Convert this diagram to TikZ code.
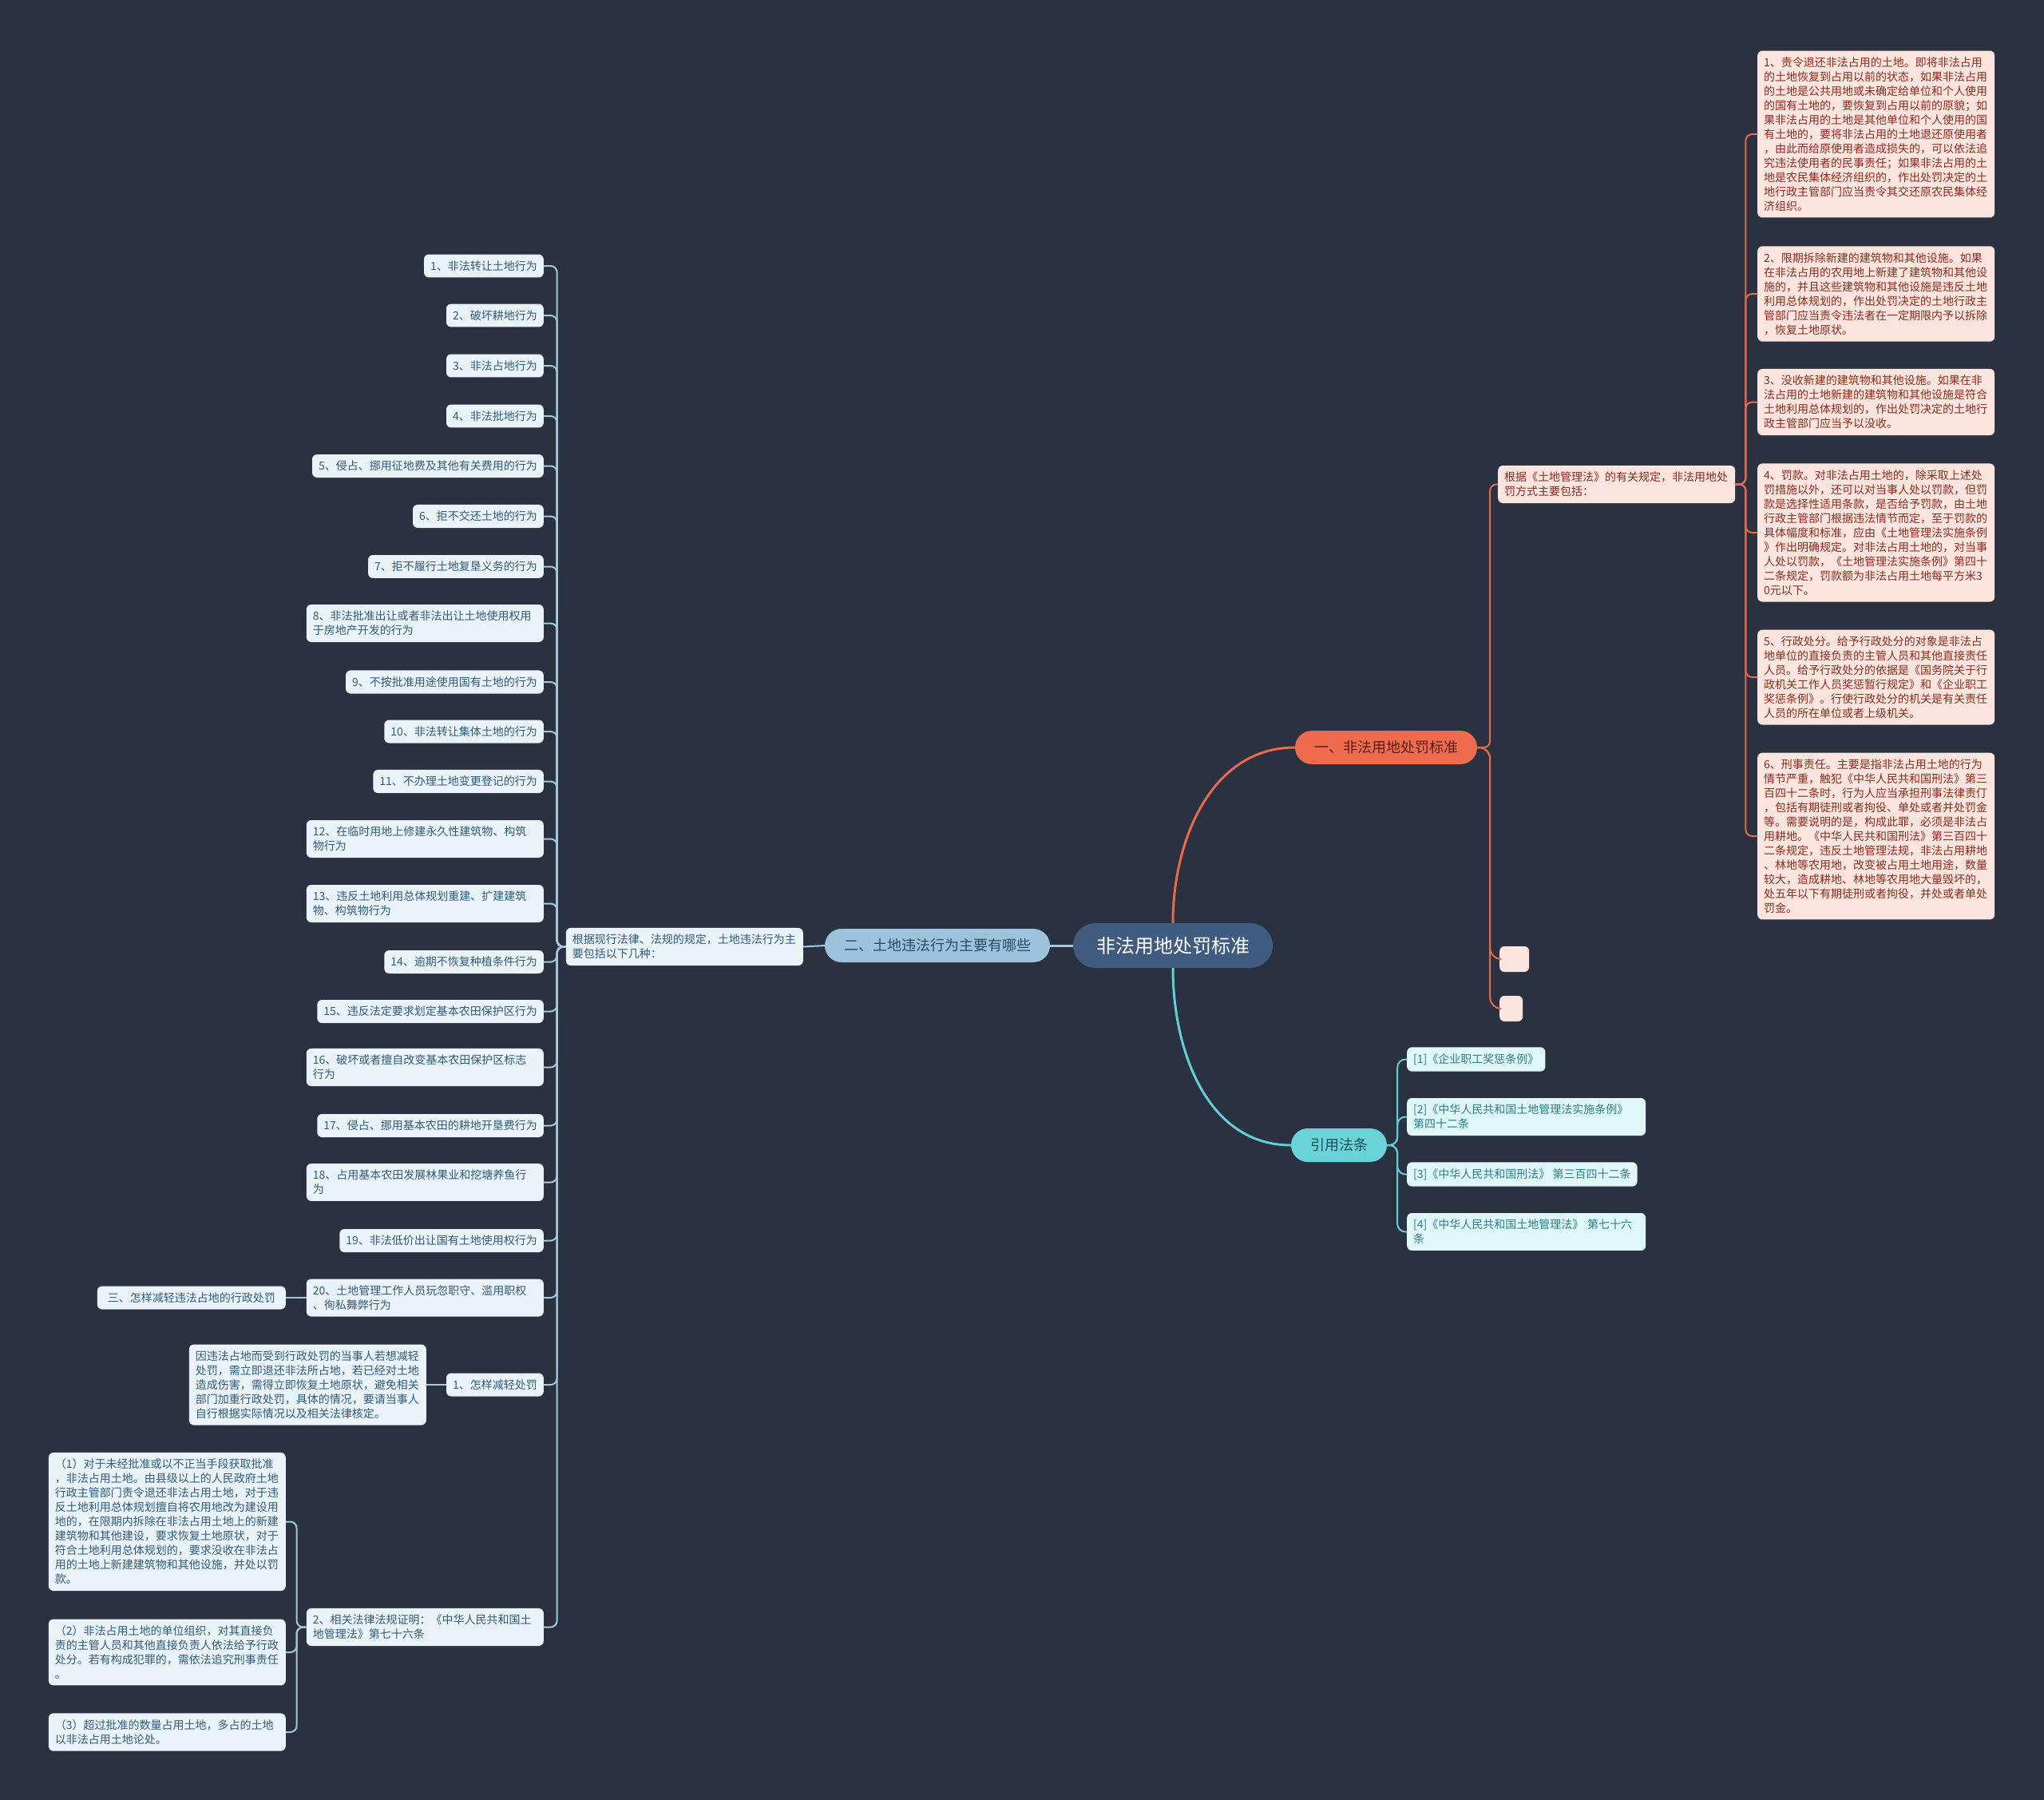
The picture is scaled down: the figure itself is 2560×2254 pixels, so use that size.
\documentclass[tikz,border=0pt]{standalone}
\usepackage{fontspec}
\setmainfont{Noto Sans CJK SC}
\definecolor{bg}{HTML}{2A3241}
\definecolor{rootfill}{HTML}{3F5B7F}
\definecolor{redfill}{HTML}{EE6C4D}
\definecolor{redline}{HTML}{E96A4B}
\definecolor{redtext}{HTML}{5B1D10}
\definecolor{pinkfill}{HTML}{FDE5DF}
\definecolor{pinktext}{HTML}{8A2B1C}
\definecolor{bluefill}{HTML}{9CC3DB}
\definecolor{blueline}{HTML}{A6C8DE}
\definecolor{bluetext}{HTML}{2D4A63}
\definecolor{palefill}{HTML}{EAF3F8}
\definecolor{paletext}{HTML}{2F5C7B}
\definecolor{cyanfill}{HTML}{6AD3DA}
\definecolor{cyanline}{HTML}{62CFD7}
\definecolor{cyantext}{HTML}{1F4F57}
\definecolor{reffill}{HTML}{E0F7F8}
\definecolor{reftext}{HTML}{2A7E86}
\begin{document}
\begin{tikzpicture}[x=1pt,y=-1pt,
  root/.style={fill=rootfill,text=white,rounded corners=28pt,minimum height=56pt,inner xsep=29pt,font=\fontsize{24}{28}\selectfont},
  topic/.style={rounded corners=21pt,minimum height=42pt,inner xsep=24pt,inner ysep=6pt,font=\fontsize{18}{22}\selectfont},
  leaf/.style={rounded corners=6pt,inner xsep=8pt,inner ysep=8pt,align=left,font=\fontsize{14}{18}\selectfont},
  wide/.style={text width=281pt},
  redleaf/.style={leaf,fill=pinkfill,text=pinktext},
  blueleaf/.style={leaf,fill=palefill,text=paletext},
  cyanleaf/.style={leaf,fill=reffill,text=reftext},
  link/.style={line width=2pt,rounded corners=8pt},
  mainlink/.style={line width=3pt}]
\fill[bg] (0,0) rectangle (2560,2254);

% centre and main topics
\node[root] (root) at (1469,1184) {非法用地处罚标准};
\node[topic,fill=redfill,text=redtext] (b1) at (1736,936) {一、非法用地处罚标准};
\node[topic,fill=bluefill,text=bluetext] (b2) at (1174,1184) {二、土地违法行为主要有哪些};
\node[topic,fill=cyanfill,text=cyantext] (b3) at (1677,1434) {引用法条};

\draw[mainlink,redline] (root.north) to[out=90,in=180] (b1.west);
\draw[mainlink,blueline] (root.west) -- (b2.east);
\draw[mainlink,cyanline] (root.south) to[out=-90,in=180] (b3.west);

% right side
\node[redleaf,wide,anchor=west] (rin) at (1876,606.5) {根据《土地管理法》的有关规定，非法用地处\\罚方式主要包括：};
\node[redleaf,minimum width=37pt,minimum height=32pt,anchor=west] (e1) at (1878,1201) {};
\node[redleaf,minimum width=29pt,minimum height=32pt,anchor=west] (e2) at (1878,1263) {};

\node[redleaf,wide,anchor=west] (r1) at (2201,168) {1、责令退还非法占用的土地。即将非法占用\\的土地恢复到占用以前的状态，如果非法占用\\的土地是公共用地或未确定给单位和个人使用\\的国有土地的，要恢复到占用以前的原貌；如\\果非法占用的土地是其他单位和个人使用的国\\有土地的，要将非法占用的土地退还原使用者\\，由此而给原使用者造成损失的，可以依法追\\究违法使用者的民事责任；如果非法占用的土\\地是农民集体经济组织的，作出处罚决定的土\\地行政主管部门应当责令其交还原农民集体经\\济组织。};
\node[redleaf,wide,anchor=west] (r2) at (2201,368) {2、限期拆除新建的建筑物和其他设施。如果\\在非法占用的农用地上新建了建筑物和其他设\\施的，并且这些建筑物和其他设施是违反土地\\利用总体规划的，作出处罚决定的土地行政主\\管部门应当责令违法者在一定期限内予以拆除\\，恢复土地原状。};
\node[redleaf,wide,anchor=west] (r3) at (2201,503.5) {3、没收新建的建筑物和其他设施。如果在非\\法占用的土地新建的建筑物和其他设施是符合\\土地利用总体规划的，作出处罚决定的土地行\\政主管部门应当予以没收。};
\node[redleaf,wide,anchor=west] (r4) at (2201,667) {4、罚款。对非法占用土地的，除采取上述处\\罚措施以外，还可以对当事人处以罚款，但罚\\款是选择性适用条款，是否给予罚款，由土地\\行政主管部门根据违法情节而定，至于罚款的\\具体幅度和标准，应由《土地管理法实施条例\\》作出明确规定。对非法占用土地的，对当事\\人处以罚款，《土地管理法实施条例》第四十\\二条规定，罚款额为非法占用土地每平方米3\\0元以下。};
\node[redleaf,wide,anchor=west] (r5) at (2201,848) {5、行政处分。给予行政处分的对象是非法占\\地单位的直接负责的主管人员和其他直接责任\\人员。给予行政处分的依据是《国务院关于行\\政机关工作人员奖惩暂行规定》和《企业职工\\奖惩条例》。行使行政处分的机关是有关责任\\人员的所在单位或者上级机关。};
\node[redleaf,wide,anchor=west] (r6) at (2201,1047) {6、刑事责任。主要是指非法占用土地的行为\\情节严重，触犯《中华人民共和国刑法》第三\\百四十二条时，行为人应当承担刑事法律责仃\\，包括有期徒刑或者拘役、单处或者并处罚金\\等。需要说明的是，构成此罪，必须是非法占\\用耕地。《中华人民共和国刑法》第三百四十\\二条规定，违反土地管理法规，非法占用耕地\\、林地等农用地，改变被占用土地用途，数量\\较大，造成耕地、林地等农用地大量毁坏的，\\处五年以下有期徒刑或者拘役，并处或者单处\\罚金。};

\draw[link,redline] (b1.east) -- ++(16,0) |- (rin.west);
\draw[link,redline,rounded corners=14pt] (b1.east) -- ++(16,0) |- (e1.west);
\draw[link,redline,rounded corners=14pt] (b1.east) -- ++(16,0) |- (e2.west);
\draw[link,redline] (rin.east) -- ++(13,0) |- (r1.west);
\draw[link,redline] (rin.east) -- ++(13,0) |- (r2.west);
\draw[link,redline] (rin.east) -- ++(13,0) |- (r3.west);
\draw[link,redline] (rin.east) -- ++(13,0) |- (r4.west);
\draw[link,redline] (rin.east) -- ++(13,0) |- (r5.west);
\draw[link,redline] (rin.east) -- ++(13,0) |- (r6.west);

% references
\node[cyanleaf,anchor=west] (c1) at (1762,1326.5) {[1]《企业职工奖惩条例》};
\node[cyanleaf,text width=283pt,anchor=west] (c2) at (1762,1398.5) {[2]《中华人民共和国土地管理法实施条例》\\第四十二条};
\node[cyanleaf,anchor=west] (c3) at (1762,1470.5) {[3]《中华人民共和国刑法》 第三百四十二条};
\node[cyanleaf,text width=283pt,anchor=west] (c4) at (1762,1542.5) {[4]《中华人民共和国土地管理法》 第七十六\\条};

\draw[link,cyanline,rounded corners=10pt] (b3.east) -- ++(13,0) |- (c1.west);
\draw[link,cyanline,rounded corners=10pt] (b3.east) -- ++(13,0) |- (c2.west);
\draw[link,cyanline,rounded corners=10pt] (b3.east) -- ++(13,0) |- (c3.west);
\draw[link,cyanline,rounded corners=10pt] (b3.east) -- ++(13,0) |- (c4.west);

% left side
\node[blueleaf,wide,anchor=east] (lin) at (1006,1185.5) {根据现行法律、法规的规定，土地违法行为主\\要包括以下几种：};
\draw[link,blueline] (b2.west) -- (lin.east);

\node[blueleaf,anchor=east] (i1) at (681,333) {1、非法转让土地行为};
\node[blueleaf,anchor=east] (i2) at (681,395) {2、破坏耕地行为};
\node[blueleaf,anchor=east] (i3) at (681,458) {3、非法占地行为};
\node[blueleaf,anchor=east] (i4) at (681,521) {4、非法批地行为};
\node[blueleaf,anchor=east] (i5) at (681,583.5) {5、侵占、挪用征地费及其他有关费用的行为};
\node[blueleaf,anchor=east] (i6) at (681,646.5) {6、拒不交还土地的行为};
\node[blueleaf,anchor=east] (i7) at (681,709.5) {7、拒不履行土地复垦义务的行为};
\node[blueleaf,wide,anchor=east] (i8) at (681,780.5) {8、非法批准出让或者非法出让土地使用权用\\于房地产开发的行为};
\node[blueleaf,anchor=east] (i9) at (681,854) {9、不按批准用途使用国有土地的行为};
\node[blueleaf,anchor=east] (i10) at (681,916) {10、非法转让集体土地的行为};
\node[blueleaf,anchor=east] (i11) at (681,978.5) {11、不办理土地变更登记的行为};
\node[blueleaf,wide,anchor=east] (i12) at (681,1050.5) {12、在临时用地上修建永久性建筑物、构筑\\物行为};
\node[blueleaf,wide,anchor=east] (i13) at (681,1131.5) {13、违反土地利用总体规划重建、扩建建筑\\物、构筑物行为};
\node[blueleaf,anchor=east] (i14) at (681,1204.5) {14、逾期不恢复种植条件行为};
\node[blueleaf,anchor=east] (i15) at (681,1266.5) {15、违反法定要求划定基本农田保护区行为};
\node[blueleaf,wide,anchor=east] (i16) at (681,1336.5) {16、破坏或者擅自改变基本农田保护区标志\\行为};
\node[blueleaf,anchor=east] (i17) at (681,1409.5) {17、侵占、挪用基本农田的耕地开垦费行为};
\node[blueleaf,wide,anchor=east] (i18) at (681,1480.5) {18、占用基本农田发展林果业和挖塘养鱼行\\为};
\node[blueleaf,anchor=east] (i19) at (681,1553.5) {19、非法低价出让国有土地使用权行为};
\node[blueleaf,wide,anchor=east] (i20) at (681,1625) {20、土地管理工作人员玩忽职守、滥用职权\\、徇私舞弊行为};
\node[blueleaf,anchor=east] (m1) at (681,1734) {1、怎样减轻处罚};
\node[blueleaf,wide,anchor=east] (law) at (681,2037.5) {2、相关法律法规证明：《中华人民共和国土\\地管理法》第七十六条};

\draw[link,blueline] (lin.west) -- ++(-11,0) |- (i1.east);
\draw[link,blueline] (lin.west) -- ++(-11,0) |- (i2.east);
\draw[link,blueline] (lin.west) -- ++(-11,0) |- (i3.east);
\draw[link,blueline] (lin.west) -- ++(-11,0) |- (i4.east);
\draw[link,blueline] (lin.west) -- ++(-11,0) |- (i5.east);
\draw[link,blueline] (lin.west) -- ++(-11,0) |- (i6.east);
\draw[link,blueline] (lin.west) -- ++(-11,0) |- (i7.east);
\draw[link,blueline] (lin.west) -- ++(-11,0) |- (i8.east);
\draw[link,blueline] (lin.west) -- ++(-11,0) |- (i9.east);
\draw[link,blueline] (lin.west) -- ++(-11,0) |- (i10.east);
\draw[link,blueline] (lin.west) -- ++(-11,0) |- (i11.east);
\draw[link,blueline] (lin.west) -- ++(-11,0) |- (i12.east);
\draw[link,blueline] (lin.west) -- ++(-11,0) |- (i13.east);
\draw[link,blueline] (lin.west) -- ++(-11,0) |- (i14.east);
\draw[link,blueline] (lin.west) -- ++(-11,0) |- (i15.east);
\draw[link,blueline] (lin.west) -- ++(-11,0) |- (i16.east);
\draw[link,blueline] (lin.west) -- ++(-11,0) |- (i17.east);
\draw[link,blueline] (lin.west) -- ++(-11,0) |- (i18.east);
\draw[link,blueline] (lin.west) -- ++(-11,0) |- (i19.east);
\draw[link,blueline] (lin.west) -- ++(-11,0) |- (i20.east);
\draw[link,blueline] (lin.west) -- ++(-11,0) |- (m1.east);
\draw[link,blueline] (lin.west) -- ++(-11,0) |- (law.east);

% lower left
\node[blueleaf,minimum width=236pt,align=right,anchor=east] (san) at (358,1625) {三、怎样减轻违法占地的行政处罚};
\draw[link,blueline] (i20.west) -- (san.east);
\node[blueleaf,wide,anchor=east] (m1t) at (534,1734) {因违法占地而受到行政处罚的当事人若想减轻\\处罚，需立即退还非法所占地，若已经对土地\\造成伤害，需得立即恢复土地原状，避免相关\\部门加重行政处罚，具体的情况，要请当事人\\自行根据实际情况以及相关法律核定。};
\draw[link,blueline] (m1.west) -- (m1t.east);

\node[blueleaf,wide,anchor=east] (l1) at (358,1905.5) {（1）对于未经批准或以不正当手段获取批准\\，非法占用土地。由县级以上的人民政府土地\\行政主管部门责令退还非法占用土地，对于违\\反土地利用总体规划擅自将农用地改为建设用\\地的，在限期内拆除在非法占用土地上的新建\\建筑物和其他建设，要求恢复土地原状，对于\\符合土地利用总体规划的，要求没收在非法占\\用的土地上新建建筑物和其他设施，并处以罚\\款。};
\node[blueleaf,wide,anchor=east] (l2) at (358,2069) {（2）非法占用土地的单位组织，对其直接负\\责的主管人员和其他直接负责人依法给予行政\\处分。若有构成犯罪的，需依法追究刑事责任\\。};
\node[blueleaf,wide,anchor=east] (l3) at (358,2169) {（3）超过批准的数量占用土地，多占的土地\\以非法占用土地论处。};
\draw[link,blueline] (law.west) -- ++(-12,0) |- (l1.east);
\draw[link,blueline] (law.west) -- ++(-12,0) |- (l2.east);
\draw[link,blueline] (law.west) -- ++(-12,0) |- (l3.east);
\end{tikzpicture}
\end{document}
